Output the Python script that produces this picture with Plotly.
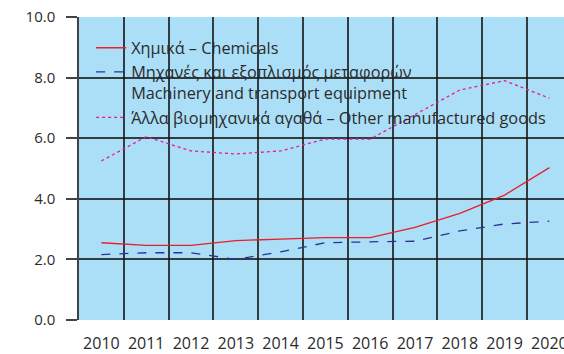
import plotly.graph_objects as go

# Annual values, 2010–2020
years = ["2010", "2011", "2012", "2013", "2014", "2015", "2016", "2017", "2018", "2019", "2020"]
chemicals = [2.55, 2.46, 2.46, 2.62, 2.67, 2.72, 2.72, 3.06, 3.52, 4.12, 5.03]
machinery = [2.16, 2.22, 2.22, 2.00, 2.25, 2.55, 2.58, 2.60, 2.94, 3.17, 3.26]
other_goods = [5.25, 6.05, 5.58, 5.48, 5.58, 5.97, 5.97, 6.77, 7.59, 7.90, 7.32]
y_ticks = [0, 2, 4, 6, 8, 10]

FONT = "Open Sans"
TEXT = "#2b2b2b"
GRID = "rgba(20,20,20,0.8)"

fig = go.Figure()
fig.add_trace(go.Scatter(
    x=years, y=chemicals, mode="lines", name="Χημικά – Chemicals",
    line=dict(color="#ee1c25", width=1.3),
))
fig.add_trace(go.Scatter(
    x=years, y=machinery, mode="lines",
    name="Μηχανές και εξοπλισμός μεταφορών<br>Machinery and transport equipment",
    line=dict(color="#2e3192", width=1.3, dash="dash"),
))
fig.add_trace(go.Scatter(
    x=years, y=other_goods, mode="lines",
    name="Άλλα βιομηχανικά αγαθά – Other manufactured goods",
    line=dict(color="#e6199b", width=1.3, dash="dot"),
))

fig.update_layout(
    width=564, height=354,
    margin=dict(l=79, r=0, t=17, b=34, autoexpand=False),
    paper_bgcolor="white",
    plot_bgcolor="#abdff8",
    font=dict(family=FONT, color=TEXT),
    showlegend=True,
    legend=dict(
        x=0.025, y=0.955, xanchor="left", yanchor="top", valign="top",
        bgcolor="rgba(0,0,0,0)", font=dict(size=16.3, color=TEXT),
        tracegroupgap=0, itemwidth=30,
    ),
    xaxis=dict(
        type="category", range=[-0.5, 10.326],
        tickson="boundaries", ticks="", showgrid=True,
        gridcolor=GRID, gridwidth=1.5, tickangle=0, automargin=False,
        tickfont=dict(size=16, color=TEXT), showline=False,
        zeroline=False, ticklabelstandoff=12,
    ),
    yaxis=dict(
        range=[0, 10], tickvals=y_ticks, automargin=False,
        ticktext=[f"{v:.1f}" for v in y_ticks],
        ticks="outside", ticklen=11, tickcolor=GRID, tickwidth=1.5,
        showgrid=True, gridcolor=GRID, gridwidth=1.5,
        showline=True, linecolor=GRID, linewidth=1.5,
        zeroline=False, ticklabelstandoff=8,
        tickfont=dict(size=15, color=TEXT),
    ),
)

fig.write_html("out.html")
